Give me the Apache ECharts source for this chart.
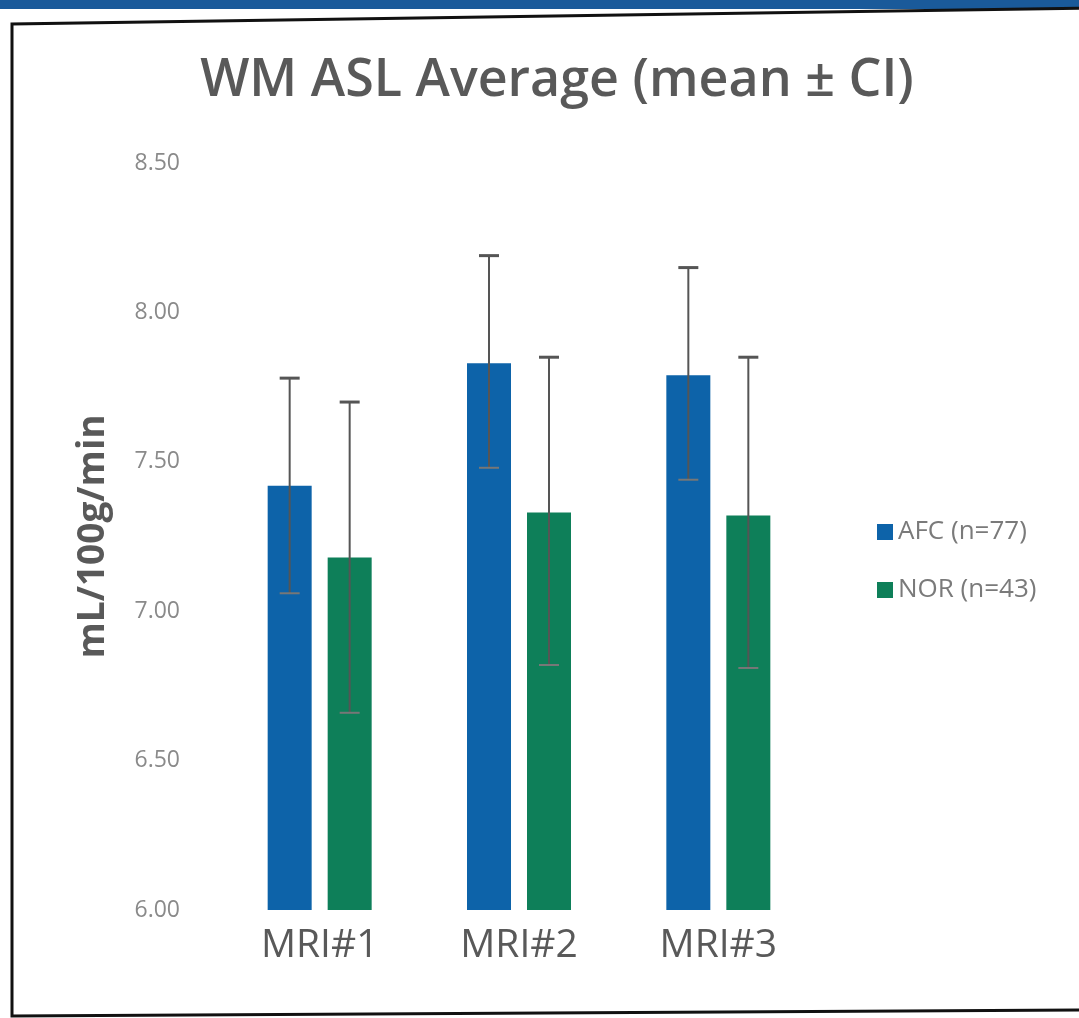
<!DOCTYPE html>
<html><head><meta charset="utf-8">
<script src="https://cdn.jsdelivr.net/npm/echarts@6/dist/echarts.min.js"></script>
<style>html,body{margin:0;padding:0;background:#fff}#c{width:1079px;height:1018px}</style>
</head><body><div id="c"></div>
<script>
const categories = ['MRI#1', 'MRI#2', 'MRI#3'];
const afcMean = [7.42, 7.83, 7.79];
const afcLow  = [7.06, 7.48, 7.44];
const afcHigh = [7.78, 8.19, 8.15];
const norMean = [7.18, 7.33, 7.32];
const norLow  = [6.66, 6.82, 6.81];
const norHigh = [7.70, 7.85, 7.85];
const afcName = 'AFC (n=77)';
const norName = 'NOR (n=43)';

const BAR_W = 44, GAP = 16;
function errSeries(low, high, side) {
  return {
    type: 'custom', silent: true, z: 5,
    data: categories.map((c, i) => [i, low[i], high[i]]),
    encode: { x: 0, y: [1, 2] },
    renderItem: function (params, api) {
      const off = side * (BAR_W + GAP) / 2;
      const lo = api.coord([api.value(0), api.value(1)]);
      const hi = api.coord([api.value(0), api.value(2)]);
      const x = lo[0] + off, cw = 10;
      const st = { stroke: '#555', lineWidth: 2 };
      return { type: 'group', children: [
        { type: 'line', shape: { x1: x, y1: lo[1], x2: x, y2: hi[1] }, style: st },
        { type: 'line', shape: { x1: x - cw, y1: hi[1], x2: x + cw, y2: hi[1] }, style: { stroke: '#555', lineWidth: 3 } },
        { type: 'line', shape: { x1: x - cw, y1: lo[1], x2: x + cw, y2: lo[1] }, style: { stroke: '#777', lineWidth: 2 } }
      ]};
    }
  };
}

const chart = echarts.init(document.getElementById('c'));
chart.setOption({
  backgroundColor: '#fff',
  animation: false,
  title: { text: 'WM ASL Average (mean ± CI)', left: 552, textAlign: 'center', top: 50,
    textStyle: { fontFamily: 'Open Sans', fontSize: 52, fontWeight: 600, color: '#595959' } },
  legend: { orient: 'vertical', left: 872, top: 514, itemGap: 32, itemWidth: 16, itemHeight: 16,
    icon: 'rect', data: [afcName, norName],
    textStyle: { fontFamily: 'Open Sans', fontSize: 26, color: '#7a7a7a' } },
  grid: { left: 220, top: 163, width: 598, height: 747 },
  xAxis: { type: 'category', data: categories,
    axisLine: { show: false }, axisTick: { show: false },
    axisLabel: { margin: 16, fontFamily: 'Open Sans', fontSize: 39, color: '#595959' } },
  yAxis: { type: 'value', min: 6, max: 8.5, interval: 0.5,
    name: 'mL/100g/min', nameLocation: 'middle', nameGap: 108,
    nameTextStyle: { fontFamily: 'Open Sans', fontSize: 37, fontWeight: 'bold', color: '#595959' },
    axisLine: { show: false }, axisTick: { show: false }, splitLine: { show: false },
    axisLabel: { margin: 40, fontFamily: 'Open Sans', fontSize: 23, color: '#8a8a8a',
      formatter: v => v.toFixed(2) } },
  series: [
    { name: afcName, type: 'bar', data: afcMean, barWidth: BAR_W, barGap: (GAP / BAR_W * 100) + '%', itemStyle: { color: '#0d63a9' } },
    { name: norName, type: 'bar', data: norMean, barWidth: BAR_W, itemStyle: { color: '#0e7f59' } },
    errSeries(afcLow, afcHigh, -1),
    errSeries(norLow, norHigh, 1)
  ],
  graphic: [
    { type: 'rect', shape: { x: 0, y: 0, width: 1079, height: 9 }, style: { fill: '#1a5a9a' } },
    { type: 'polyline', shape: { points: [[1100, 8], [12, 24], [12, 1016], [1100, 1010]] },
      style: { stroke: '#111', lineWidth: 3, fill: null } }
  ]
});
</script></body></html>
